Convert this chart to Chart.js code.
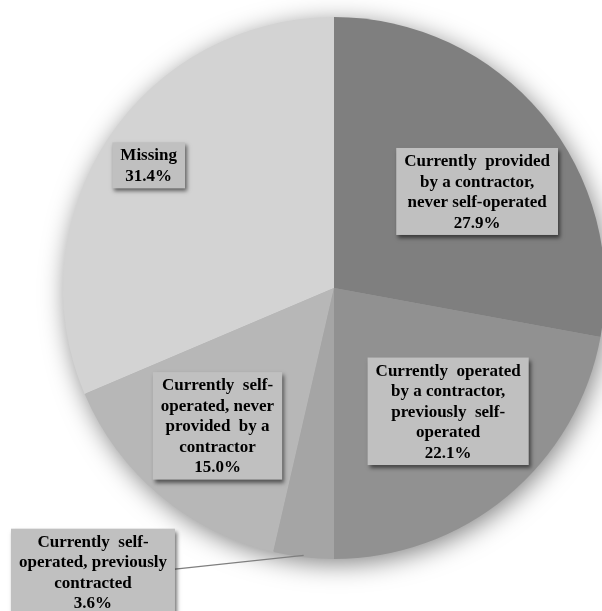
<!DOCTYPE html>
<html>
<head>
<meta charset="utf-8">
<script src="https://cdn.jsdelivr.net/npm/chart.js@4"></script>
<style>
  html, body { margin: 0; padding: 0; background: #fff; overflow: hidden; }
  #wrap { width: 602px; height: 611px; overflow: hidden; position: relative; }
  canvas { position: absolute; left: 0; top: 0; }
</style>
</head>
<body>
<div id="wrap"><canvas id="pie" width="700" height="611"></canvas></div>
<script>
// slice data, clockwise from 12 o'clock
const categories = [
  "Currently provided by a contractor, never self-operated",
  "Currently operated by a contractor, previously self-operated",
  "Currently self-operated, previously contracted",
  "Currently self-operated, never provided by a contractor",
  "Missing"
];
const shares = [27.9, 22.1, 3.6, 15.0, 31.4];
const sliceColors = ["#7f7f7f", "#919191", "#a5a5a5", "#b7b7b7", "#d3d3d3"];

// label text as it is wrapped in the picture
const labelLines = [
  ["Currently  provided", "by a contractor,", "never self-operated"],
  ["Currently  operated", "by a contractor,", "previously  self-", "operated"],
  ["Currently  self-", "operated, previously", "contracted"],
  ["Currently  self-", "operated, never", "provided  by a", "contractor"],
  ["Missing"]
];

// where each label box sits: angle (deg, canvas) and distance as fraction of radius
const labelAngles = [-34, 47.2, 130.3, 130.2, 213.5];
const labelDist = [0.637, 0.62, 1.375, 0.666, 0.82];

// ---------------------------
// soft shadow under the whole pie
// ---------------------------
const pieShadow = {
  id: 'pieShadow',
  beforeDatasetsDraw(chart) {
    const arc = chart.getDatasetMeta(0).data[0];
    if (!arc) return;
    const ctx = chart.ctx;
    ctx.save();
    ctx.shadowColor = 'rgba(0,0,0,0.5)';
    ctx.shadowBlur = 26;
    ctx.shadowOffsetX = 3;
    ctx.shadowOffsetY = 5;
    ctx.fillStyle = '#999';
    ctx.beginPath();
    ctx.arc(arc.x, arc.y, arc.outerRadius - 1, 0, Math.PI * 2);
    ctx.fill();
    ctx.restore();
  }
};

// ---------------------------
// boxed data labels
// ---------------------------
const boxLabels = {
  id: 'boxLabels',
  afterDatasetsDraw(chart) {
    const ctx = chart.ctx;
    const arcs = chart.getDatasetMeta(0).data;
    const lineH = 20.5;
    ctx.save();
    ctx.font = 'bold 17px "Liberation Serif", "Times New Roman", serif';
    ctx.textAlign = 'center';
    ctx.textBaseline = 'middle';

    arcs.forEach((arc, i) => {
      const lines = labelLines[i].concat([shares[i].toFixed(1) + '%']);
      const a = labelAngles[i] * Math.PI / 180;
      const cx = arc.x + Math.cos(a) * arc.outerRadius * labelDist[i];
      const cy = arc.y + Math.sin(a) * arc.outerRadius * labelDist[i];
      const w = Math.max(...lines.map(l => ctx.measureText(l).width)) + 16;
      const h = lines.length * lineH + 5;
      const left = cx - w / 2;
      const top = cy - h / 2;

      // leader line for the label placed outside the pie
      if (labelDist[i] > 1) {
        const mid = (arc.startAngle + arc.endAngle) / 2;
        ctx.strokeStyle = '#7f7f7f';
        ctx.lineWidth = 1.2;
        ctx.beginPath();
        ctx.moveTo(arc.x + Math.cos(mid) * (arc.outerRadius - 2), arc.y + Math.sin(mid) * (arc.outerRadius - 2));
        ctx.lineTo(left + w, cy - 3);
        ctx.stroke();
      }

      ctx.save();
      ctx.shadowColor = 'rgba(0,0,0,0.55)';
      ctx.shadowBlur = 4;
      ctx.shadowOffsetX = 2;
      ctx.shadowOffsetY = 3;
      ctx.fillStyle = '#c0c0c0';
      ctx.fillRect(left, top, w, h);
      ctx.restore();

      ctx.fillStyle = '#000';
      lines.forEach((l, k) => {
        ctx.fillText(l, cx, top + 3.5 + lineH * (k + 0.5));
      });
    });
    ctx.restore();
  }
};

const ctx = document.getElementById('pie').getContext('2d');
new Chart(ctx, {
  type: 'pie',
  data: {
    labels: categories,
    datasets: [{
      data: shares,
      backgroundColor: sliceColors,
      borderWidth: 0
    }]
  },
  options: {
    responsive: false,
    animation: false,
    devicePixelRatio: 1,
    layout: { padding: { left: 63, top: 17, right: 95, bottom: 52 } },
    plugins: {
      legend: { display: false },
      tooltip: { enabled: false }
    }
  },
  plugins: [pieShadow, boxLabels]
});
</script>
</body>
</html>
